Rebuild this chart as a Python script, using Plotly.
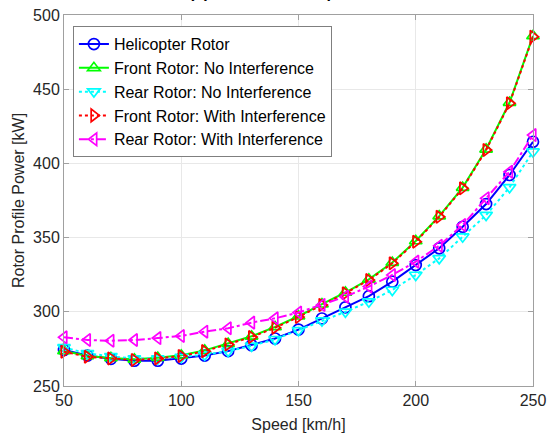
import plotly.graph_objects as go

speed = [50, 60, 70, 80, 90, 100, 110, 120, 130, 140, 150, 160, 170, 180, 190, 200, 210, 220, 230, 240, 250]

heli = [274.3, 270.5, 268.3, 267.0, 267.0, 268.5, 270.5, 273.5, 277.5, 282.0, 288.0, 295.5, 303.0, 310.5, 320.3, 331.5, 342.8, 357.3, 372.6, 392.2, 414.6]
front_noint = [273.6, 270.2, 268.9, 268.0, 269.1, 270.7, 274.0, 278.5, 283.5, 289.8, 297.0, 305.1, 313.0, 321.9, 333.2, 347.7, 364.5, 383.7, 409.5, 441.0, 485.9]
rear_noint = [276.0, 272.0, 270.0, 268.5, 268.5, 269.5, 271.0, 273.5, 277.0, 281.5, 287.5, 294.0, 300.0, 306.8, 314.7, 324.8, 336.0, 350.6, 365.2, 383.9, 407.9]
front_int = [273.1, 269.7, 268.6, 267.5, 268.6, 270.2, 273.5, 278.0, 283.0, 289.3, 296.5, 304.6, 312.5, 321.4, 332.7, 347.2, 364.0, 383.2, 409.0, 440.5, 485.4]
rear_int = [282.8, 281.0, 280.5, 281.0, 282.3, 283.7, 286.6, 288.9, 292.7, 295.6, 299.5, 304.6, 310.2, 317.0, 324.8, 333.8, 344.5, 358.5, 376.5, 394.4, 419.1]

names = ["Helicopter Rotor", "Front Rotor: No Interference", "Rear Rotor: No Interference",
         "Front Rotor: With Interference", "Rear Rotor: With Interference"]
series = [heli, front_noint, rear_noint, front_int, rear_int]
colors = ["#0000ff", "#00ff00", "#00ffff", "#ff0000", "#ff00ff"]
dashes = ["solid", "solid", "dot", "dot", "dashdot"]
symbols = ["circle-open", "triangle-up-open", "triangle-down-open", "triangle-right-open", "triangle-left-open"]

fig = go.Figure()
for n, s, c, d, m in zip(names, series, colors, dashes, symbols):
    fig.add_trace(go.Scatter(
        x=speed, y=s, name=n, mode="lines+markers",
        line=dict(color=c, width=2, dash=d),
        marker=dict(symbol=m, size=11, color=c, line=dict(color=c, width=1.7)),
        cliponaxis=False,
    ))

font_family = "Liberation Sans, Arial"
axis_common = dict(
    showline=True, linecolor="#a0a0a0", linewidth=1, mirror="ticks",
    ticks="inside", ticklen=5, tickcolor="#a0a0a0",
    showgrid=True, gridcolor="#e8e8e8", gridwidth=1, zeroline=False,
    automargin=False,
    tickfont=dict(family=font_family, size=16, color="#262626"),
)

fig.update_layout(
    width=547, height=437,
    margin=dict(l=64, r=14, t=15, b=51),
    paper_bgcolor="white", plot_bgcolor="white",
    xaxis=dict(range=[50, 250], tickvals=[50, 100, 150, 200, 250],
               title=dict(text="Speed [km/h]", standoff=10,
                          font=dict(family=font_family, size=16, color="#262626")),
               **axis_common),
    yaxis=dict(range=[250, 500], tickvals=[250, 300, 350, 400, 450, 500],
               title=dict(text="Rotor Profile Power [kW]", standoff=4,
                          font=dict(family=font_family, size=16, color="#262626")),
               **axis_common),
    legend=dict(x=0.019, y=0.970, xanchor="left", yanchor="top",
                bgcolor="white", bordercolor="#7f7f7f", borderwidth=1,
                font=dict(family=font_family, size=16, color="black"),
                tracegroupgap=0, itemwidth=30),
    showlegend=True,
)

fig.add_annotation(text="<b>(b) Tandem Helicopter Power</b>", xref="paper", yref="paper",
                   x=0.5, y=1.036, xanchor="center", yanchor="bottom", showarrow=False,
                   borderpad=0, font=dict(family=font_family, size=16, color="black"))

fig.write_html("out.html")
